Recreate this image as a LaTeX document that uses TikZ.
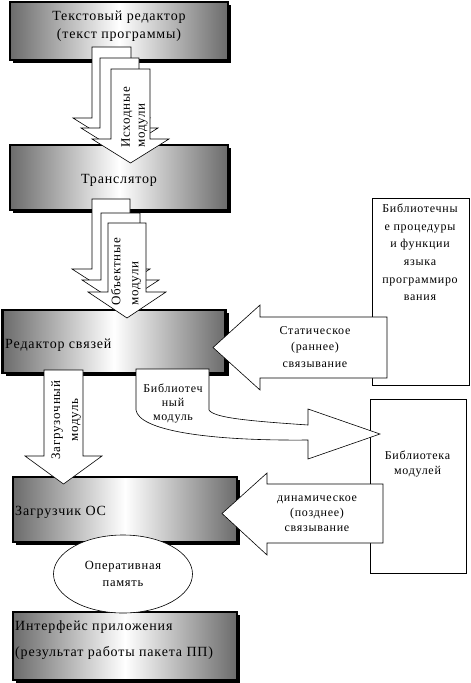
\documentclass[tikz,border=0pt]{standalone}
\usepackage{fontspec}
\setmainfont{Liberation Serif}[LetterSpace=6]
\usetikzlibrary{shapes.geometric,shadows}

\begin{document}
\begin{tikzpicture}[x=1pt,y=-1pt,
    panel/.style={draw,line width=2.6pt,left color=black!58,right color=black!58,middle color=white,
      drop shadow={shadow xshift=3pt,shadow yshift=-3pt,fill=black,opacity=1},inner sep=0pt},
    libbox/.style={draw,line width=0.8pt,fill=white,inner sep=0pt},
    fat/.style={draw,line width=0.6pt,fill=white},
    big/.style={inner sep=0pt,font=\fontsize{14}{18}\selectfont},
    note/.style={inner sep=0pt,align=center}]
  \useasboundingbox (0,0) rectangle (471,683);

  % main chain
  \node[panel,minimum width=218pt,minimum height=58pt] (txted)  at (119,31)    {};
  \node[panel,minimum width=218pt,minimum height=65pt] (trans)  at (119,177.5) {};
  \node[panel,minimum width=223pt,minimum height=63pt] (linked) at (114,341.5) {};
  \node[panel,minimum width=224pt,minimum height=65pt] (loader) at (125,509.5) {};
  \node[panel,minimum width=224pt,minimum height=68pt] (appui)  at (125,646)   {};

  % libraries
  \node[libbox,minimum width=97pt,minimum height=187pt] (proc) at (420.5,291.5) {};
  \node[libbox,minimum width=96pt,minimum height=174pt] (lib)  at (418,486)     {};

  % source modules
  \draw[fat] (92,47) -- (131,47) -- (131,118) -- (150,118) -- (111.5,142) -- (73,118) -- (92,118) -- cycle;
  \draw[fat] (100,58) -- (139,58) -- (139,128) -- (158,128) -- (119.5,152) -- (81,128) -- (100,128) -- cycle;
  \draw[fat] (111,69) -- (150,69) -- (150,139) -- (169,139) -- (130.5,163) -- (92,139) -- (111,139) -- cycle;

  % object modules
  \draw[fat] (92,199) -- (130,199) -- (130,269) -- (150,269) -- (111,294) -- (72,269) -- (92,269) -- cycle;
  \draw[fat] (101,213) -- (140,213) -- (140,280) -- (159,280) -- (120.5,305) -- (82,280) -- (101,280) -- cycle;
  \draw[fat] (108,223) -- (146,223) -- (146,292) -- (166,292) -- (127,318) -- (88,292) -- (108,292) -- cycle;

  % load module
  \draw[fat] (44,370) -- (83,370) -- (83,456) -- (102,456) -- (63.5,484) -- (25,456) -- (44,456) -- cycle;

  % library module
  \draw[fat] (136,369) -- (209,369) -- (209,410) .. controls (214,418) and (250,421) .. (308,425)
    -- (308,409) -- (380,434) -- (308,459) -- (308,440) .. controls (205,441) and (139,430) .. (136,410) -- cycle;

  % static and dynamic linking
  \draw[fat] (387,317) -- (260,317) -- (260,305) -- (213,347.5) -- (260,390) -- (260,378) -- (387,378) -- cycle;
  \draw[fat] (383,484) -- (267,484) -- (267,473) -- (222,513.5) -- (267,555) -- (267,543) -- (383,543) -- cycle;

  \node[ellipse,draw,line width=0.6pt,fill=white,inner sep=0pt,minimum width=139pt,minimum height=78pt,
    align=center,font=\fontsize{12.5}{17}\selectfont] (ram) at (123,574) {Оперативная\\память};

  % texts
  \node[big,align=center] (txted-t) at (119,26) {Текстовый редактор\\(текст программы)};
  \node[big] (trans-t) at (119,180) {Транслятор};
  \node[big,anchor=west] (linked-t) at (5,345) {Редактор связей};
  \node[big,anchor=west] (loader-t) at (15,512) {Загрузчик ОС};
  \node[big,anchor=west,align=left,font=\fontsize{14}{26}\selectfont] (appui-t) at (15,640)
    {Интерфейс приложения\\(результат работы пакета ПП)};

  \node[note,rotate=90,anchor=west,align=left,font=\fontsize{13}{15}\selectfont] (src-t) at (134.5,148) {Исходные\\модули};
  \node[note,rotate=90,anchor=west,align=left,font=\fontsize{13}{18}\selectfont] (obj-t) at (126,306) {Объектные\\модули};
  \node[note,rotate=90,font=\fontsize{13}{18}\selectfont] (load-t) at (66,420) {Загрузочный\\модуль};
  \node[note,font=\fontsize{12}{14}\selectfont] (libmod-t) at (173,403) {Библиотеч\\ный\\модуль};

  \node[note,anchor=north,font=\fontsize{12}{17.6}\selectfont] (proc-t) at (420,204)
    {Библиотечны\\е процедуры\\и функции\\языка\\программиро\\вания};
  \node[note,font=\fontsize{12}{15.5}\selectfont] (lib-t) at (417.5,464) {Библиотека\\модулей};
  \node[note,font=\fontsize{12}{16.5}\selectfont] (static-t) at (315,347) {Статическое\\(раннее)\\связывание};
  \node[note,font=\fontsize{12}{15}\selectfont] (dyn-t) at (317,514) {динамическое\\(позднее)\\связывание};
\end{tikzpicture}
\end{document}
